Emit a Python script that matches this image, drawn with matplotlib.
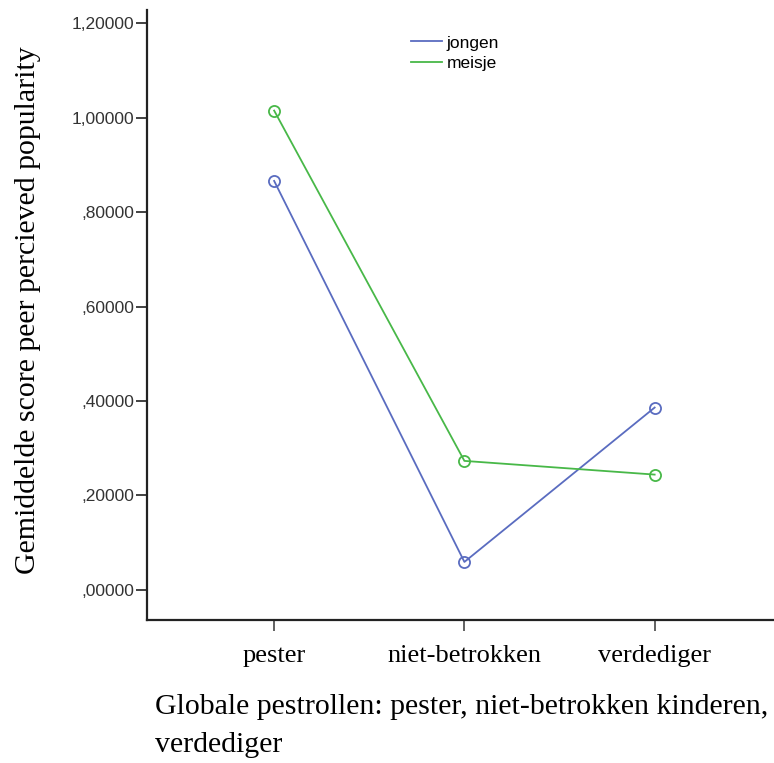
import matplotlib.pyplot as plt
from matplotlib.lines import Line2D

# data
rollen = ["pester", "niet-betrokken", "verdediger"]
jongen = [0.866, 0.059, 0.386]
meisje = [1.015, 0.273, 0.244]
y_ticks = [0.0, 0.2, 0.4, 0.6, 0.8, 1.0, 1.2]

sans = ["Liberation Sans", "DejaVu Sans"]
serif = ["Liberation Serif", "DejaVu Serif"]
c_jongen = "#5a6cc0"
c_meisje = "#48b848"


def spss_fmt(v):
    s = f"{v:.5f}".replace(".", ",")
    if s.startswith("0"):
        s = s[1:]
    return s


fig = plt.figure(figsize=(7.74, 7.63), dpi=100)
ax = fig.add_axes([0.19, 0.1874, 0.82, 0.7995])

x = list(range(len(rollen)))
ax.plot(x, jongen, color=c_jongen, lw=1.3, marker="o", ms=8,
        mfc="none", mec=c_jongen, mew=1.3)
ax.plot(x, meisje, color=c_meisje, lw=1.3, marker="o", ms=8,
        mfc="none", mec=c_meisje, mew=1.3)

ax.set_xlim(-0.668, 2.668)
ax.set_ylim(-0.064, 1.228)

ax.set_yticks(y_ticks)
ax.set_yticklabels([spss_fmt(v) for v in y_ticks], family=sans,
                   fontsize=12.5, color="#333333")
ax.set_xticks(x)
ax.set_xticklabels(rollen, family=serif, fontsize=19)

for side in ["top", "right"]:
    ax.spines[side].set_visible(False)
for side in ["left", "bottom"]:
    ax.spines[side].set_linewidth(1.6)
    ax.spines[side].set_color("#222222")
ax.tick_params(axis="y", length=8, width=1.3, color="#333333", pad=1)
ax.tick_params(axis="x", length=8, width=1.3, color="#555555", pad=10)

fig.text(28 / 774, 1 - 310 / 763, "Gemiddelde score peer percieved popularity",
         family=serif, fontsize=21.5, rotation=90, va="center", ha="center")

fig.text(0.2, 1 - 707 / 763, "Globale pestrollen: pester, niet-betrokken kinderen,",
         family=serif, fontsize=21.5, va="center", ha="left")
fig.text(0.2, 1 - 745 / 763, "verdediger",
         family=serif, fontsize=21.5, va="center", ha="left")

handles = [Line2D([], [], color=c_jongen, lw=1.3),
           Line2D([], [], color=c_meisje, lw=1.3)]
fig.legend(handles, ["jongen", "meisje"], loc="upper left",
           bbox_to_anchor=(0.52, 0.965), frameon=False,
           prop={"family": sans, "size": 12.5}, handlelength=1.75,
           handletextpad=0.3, labelspacing=0.3, borderpad=0)

fig.savefig("out.png", dpi=100)
